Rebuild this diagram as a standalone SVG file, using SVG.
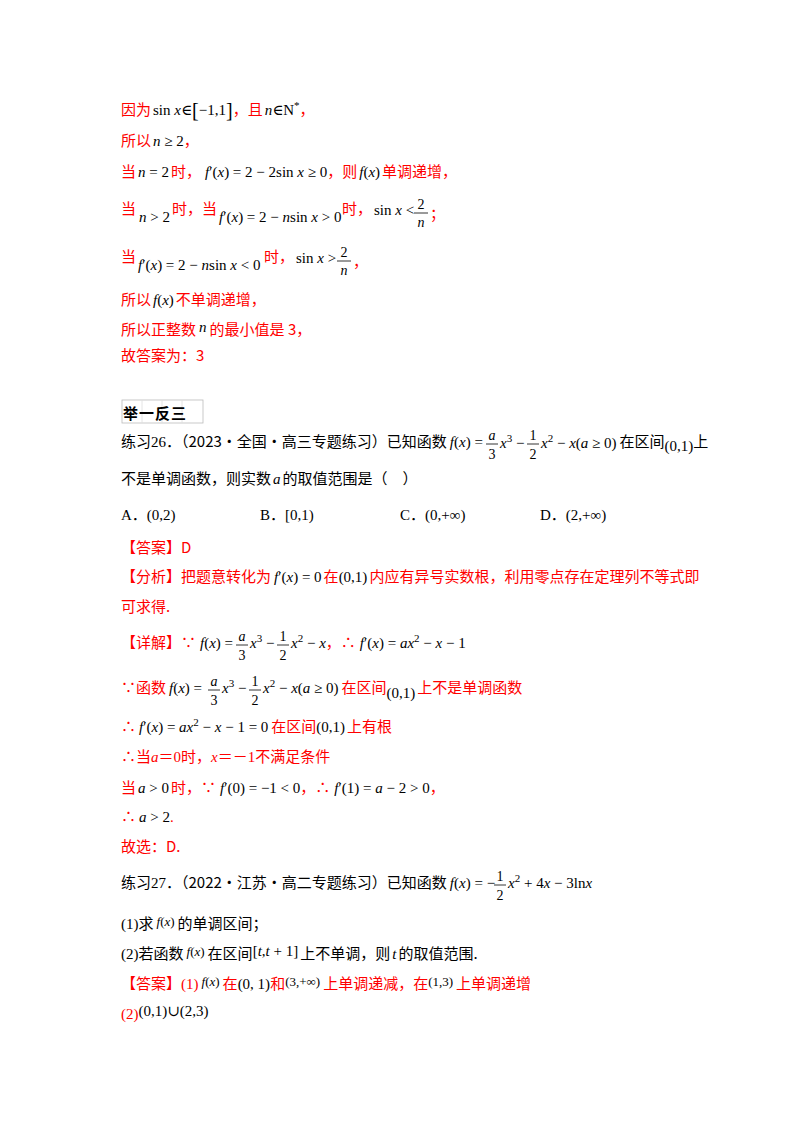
<svg xmlns="http://www.w3.org/2000/svg" width="800" height="1132" viewBox="0 0 800 1132">
<style>
text{font-family:"Liberation Serif","Times New Roman","DejaVu Serif","Noto Sans CJK SC",serif;font-size:15px;fill:#000}
.r{fill:#f00}
.i{font-style:italic}
.c{font-family:"Noto Sans CJK SC",sans-serif}
.s{font-size:11px}
.f{font-size:14px;text-anchor:middle}
.m{font-size:13px}
line{stroke:#000;stroke-width:0.8}
</style>
<rect width="800" height="1132" fill="#fff"/>
<g id="solution25">
<text x="121" y="115"><tspan class="r c">因为</tspan><tspan dx="2">sin </tspan><tspan class="i">x</tspan><tspan>∈</tspan><tspan font-size="20" dy="2">[</tspan><tspan dy="-2">−1,1</tspan><tspan font-size="20" dy="2">]</tspan><tspan class="r c" dy="-2">，且</tspan><tspan class="i" dx="2">n</tspan><tspan>∈N</tspan><tspan class="s" dy="-6">*</tspan><tspan class="r c" dy="6">，</tspan></text>
<text x="121" y="146"><tspan class="r c">所以</tspan><tspan class="i" dx="2">n</tspan><tspan> ≥ 2</tspan><tspan class="r c">，</tspan></text>
<text x="121" y="177"><tspan class="r c">当</tspan><tspan class="i" dx="2">n</tspan><tspan> = 2</tspan><tspan class="r c" dx="2">时，</tspan><tspan class="i" dx="4">f</tspan><tspan>′(</tspan><tspan class="i">x</tspan><tspan>) = 2 − 2sin </tspan><tspan class="i">x</tspan><tspan> ≥ 0</tspan><tspan class="r c">，则</tspan><tspan class="i" dx="2">f</tspan><tspan>(</tspan><tspan class="i">x</tspan><tspan>)</tspan><tspan class="r c" dx="2">单调递增，</tspan></text>
<text x="121" y="214" class="r c">当</text>
<text x="139" y="222"><tspan class="i">n</tspan><tspan> &gt; 2</tspan></text>
<text x="172" y="214" class="r c">时，当</text>
<text x="219" y="222"><tspan class="i">f</tspan><tspan>′(</tspan><tspan class="i">x</tspan><tspan>) = 2 − </tspan><tspan class="i">n</tspan><tspan>sin </tspan><tspan class="i">x</tspan><tspan> &gt; 0</tspan></text>
<text x="342" y="214" class="r c">时，</text>
<text x="374" y="215"><tspan>sin </tspan><tspan class="i">x</tspan><tspan> &lt;</tspan></text>
<text x="421" y="209" class="f">2</text><line x1="414" y1="213" x2="428" y2="213"/><text x="421" y="227" class="f i">n</text>
<text x="430" y="219" class="r c">；</text>
<text x="121" y="262" class="r c">当</text>
<text x="138" y="270"><tspan class="i">f</tspan><tspan>′(</tspan><tspan class="i">x</tspan><tspan>) = 2 − </tspan><tspan class="i">n</tspan><tspan>sin </tspan><tspan class="i">x</tspan><tspan> &lt; 0</tspan></text>
<text x="264" y="262" class="r c">时，</text>
<text x="296" y="263"><tspan>sin </tspan><tspan class="i">x</tspan><tspan> &gt;</tspan></text>
<text x="344" y="257" class="f">2</text><line x1="337" y1="261" x2="351" y2="261"/><text x="344" y="275" class="f i">n</text>
<text x="353" y="267" class="r c">，</text>
<text x="121" y="305"><tspan class="r c">所以</tspan><tspan class="i" dx="2">f</tspan><tspan>(</tspan><tspan class="i">x</tspan><tspan>)</tspan><tspan class="r c" dx="2">不单调递增，</tspan></text>
<text x="121" y="335"><tspan class="r c">所以正整数</tspan><tspan class="i" dy="-3" dx="3">n</tspan><tspan class="r c" dy="3" dx="3">的最小值是 3，</tspan></text>
<text x="121" y="361" class="r c">故答案为：3</text>
</g>
<g id="header">
<rect x="122" y="400" width="81" height="23" fill="#fff" stroke="#bbb" stroke-width="0.8"/>
<line x1="142" y1="400" x2="142" y2="423" style="stroke:#ddd"/><line x1="162" y1="400" x2="162" y2="423" style="stroke:#ddd"/><line x1="182" y1="400" x2="182" y2="423" style="stroke:#ddd"/>
<text x="123" y="419" class="c" font-size="19" font-weight="bold" letter-spacing="1">举一反三</text>
</g>
<g id="ex26">
<text x="121" y="447"><tspan class="c">练习</tspan><tspan>26．</tspan><tspan class="c">（2023·全国·高三专题练习）已知函数</tspan><tspan class="i" dx="3">f</tspan><tspan>(</tspan><tspan class="i">x</tspan><tspan>) =</tspan></text>
<text x="492" y="440" class="f i">a</text><line x1="486" y1="444" x2="498" y2="444"/><text x="492" y="459" class="f">3</text>
<text x="500" y="448"><tspan class="i">x</tspan><tspan class="s" dy="-6">3</tspan><tspan dy="6"> −</tspan></text>
<text x="533" y="440" class="f">1</text><line x1="527" y1="444" x2="539" y2="444"/><text x="533" y="459" class="f">2</text>
<text x="541" y="448"><tspan class="i">x</tspan><tspan class="s" dy="-6">2</tspan><tspan dy="6"> − </tspan><tspan class="i">x</tspan><tspan>(</tspan><tspan class="i">a</tspan><tspan> ≥ 0)</tspan><tspan class="c" dx="3" dy="-1">在区间</tspan><tspan dy="4">(0,1)</tspan><tspan class="c" dy="-4">上</tspan></text>
<text x="121" y="484"><tspan class="c">不是单调函数，则实数</tspan><tspan class="i" dx="2">a</tspan><tspan class="c" dx="2">的取值范围是（　）</tspan></text>
<text x="121" y="520">A．(0,2)</text>
<text x="260" y="520">B．[0,1)</text>
<text x="400" y="520">C．(0,+∞)</text>
<text x="540" y="520">D．(2,+∞)</text>
<text x="121" y="553" class="r c">【答案】D</text>
<text x="121" y="582"><tspan class="r c">【分析】把题意转化为</tspan><tspan class="i" dx="3">f</tspan><tspan>′(</tspan><tspan class="i">x</tspan><tspan>) = 0</tspan><tspan class="r c" dx="2">在</tspan><tspan>(0,1)</tspan><tspan class="r c" dx="2">内应有异号实数根，利用零点存在定理列不等式即</tspan></text>
<text x="121" y="612" class="r c">可求得.</text>
<text x="121" y="648"><tspan class="r c">【详解】∵</tspan><tspan class="i" dx="4">f</tspan><tspan>(</tspan><tspan class="i">x</tspan><tspan>) =</tspan></text>
<text x="242" y="641" class="f i">a</text><line x1="236" y1="645" x2="248" y2="645"/><text x="242" y="660" class="f">3</text>
<text x="250" y="648"><tspan class="i">x</tspan><tspan class="s" dy="-6">3</tspan><tspan dy="6"> −</tspan></text>
<text x="283" y="641" class="f">1</text><line x1="277" y1="645" x2="289" y2="645"/><text x="283" y="660" class="f">2</text>
<text x="291" y="648"><tspan class="i">x</tspan><tspan class="s" dy="-6">2</tspan><tspan dy="6"> − </tspan><tspan class="i">x</tspan><tspan class="r c">，∴</tspan><tspan class="i" dx="4">f</tspan><tspan>′(</tspan><tspan class="i">x</tspan><tspan>) = </tspan><tspan class="i">ax</tspan><tspan class="s" dy="-6">2</tspan><tspan dy="6"> − </tspan><tspan class="i">x</tspan><tspan> − 1</tspan></text>
<text x="121" y="693"><tspan class="r c">∵函数</tspan><tspan class="i" dx="3">f</tspan><tspan>(</tspan><tspan class="i">x</tspan><tspan>) =</tspan></text>
<text x="214" y="686" class="f i">a</text><line x1="208" y1="690" x2="220" y2="690"/><text x="214" y="705" class="f">3</text>
<text x="222" y="693"><tspan class="i">x</tspan><tspan class="s" dy="-6">3</tspan><tspan dy="6"> −</tspan></text>
<text x="255" y="686" class="f">1</text><line x1="249" y1="690" x2="261" y2="690"/><text x="255" y="705" class="f">2</text>
<text x="263" y="693"><tspan class="i">x</tspan><tspan class="s" dy="-6">2</tspan><tspan dy="6"> − </tspan><tspan class="i">x</tspan><tspan>(</tspan><tspan class="i">a</tspan><tspan> ≥ 0)</tspan><tspan class="r c" dx="3">在区间</tspan><tspan dy="5">(0,1)</tspan><tspan class="r c" dy="-5" dx="2">上不是单调函数</tspan></text>
<text x="121" y="732"><tspan class="r c">∴</tspan><tspan class="i" dx="3">f</tspan><tspan>′(</tspan><tspan class="i">x</tspan><tspan>) = </tspan><tspan class="i">ax</tspan><tspan class="s" dy="-6">2</tspan><tspan dy="6"> − </tspan><tspan class="i">x</tspan><tspan> − 1 = 0</tspan><tspan class="r c" dx="3">在区间</tspan><tspan>(0,1)</tspan><tspan class="r c" dx="2">上有根</tspan></text>
<text x="121" y="762" class="r"><tspan class="c">∴当</tspan><tspan class="i">a</tspan><tspan>＝0</tspan><tspan class="c">时，</tspan><tspan class="i">x</tspan><tspan>＝－1</tspan><tspan class="c">不满足条件</tspan></text>
<text x="121" y="793"><tspan class="r c">当</tspan><tspan class="i" dx="2">a</tspan><tspan> &gt; 0</tspan><tspan class="r c" dx="2">时，∵</tspan><tspan class="i" dx="4">f</tspan><tspan>′(0) = −1 &lt; 0</tspan><tspan class="r c">，∴</tspan><tspan class="i" dx="4">f</tspan><tspan>′(1) = </tspan><tspan class="i">a</tspan><tspan> − 2 &gt; 0</tspan><tspan class="r c">，</tspan></text>
<text x="121" y="822"><tspan class="r c">∴</tspan><tspan class="i" dx="3">a</tspan><tspan> &gt; 2</tspan><tspan class="r">.</tspan></text>
<text x="121" y="852" class="r c">故选：D.</text>
</g>
<g id="ex27">
<text x="121" y="888"><tspan class="c">练习</tspan><tspan>27．</tspan><tspan class="c">（2022·江苏·高二专题练习）已知函数</tspan><tspan class="i" dx="3">f</tspan><tspan>(</tspan><tspan class="i">x</tspan><tspan>) = −</tspan></text>
<text x="500" y="881" class="f">1</text><line x1="494" y1="885" x2="506" y2="885"/><text x="500" y="900" class="f">2</text>
<text x="508" y="888"><tspan class="i">x</tspan><tspan class="s" dy="-6">2</tspan><tspan dy="6"> + 4</tspan><tspan class="i">x</tspan><tspan> − 3ln</tspan><tspan class="i">x</tspan></text>
<text x="121" y="929"><tspan>(1)</tspan><tspan class="c">求</tspan><tspan class="i m" dy="-3" dx="3">f</tspan><tspan class="m">(</tspan><tspan class="i m">x</tspan><tspan class="m">)</tspan><tspan class="c" dy="3" dx="3">的单调区间；</tspan></text>
<text x="121" y="959"><tspan>(2)</tspan><tspan class="c">若函数</tspan><tspan class="i m" dy="-3" dx="3">f</tspan><tspan class="m">(</tspan><tspan class="i m">x</tspan><tspan class="m">)</tspan><tspan class="c" dy="3" dx="3">在区间</tspan><tspan dy="-3">[</tspan><tspan class="i">t</tspan><tspan>,</tspan><tspan class="i">t</tspan><tspan> + 1]</tspan><tspan class="c" dy="3" dx="2">上不单调，则</tspan><tspan class="i" dx="2">t</tspan><tspan class="c" dx="2">的取值范围.</tspan></text>
<text x="121" y="989"><tspan class="r c">【答案】</tspan><tspan class="r">(1)</tspan><tspan class="i m" dy="-3" dx="3">f</tspan><tspan class="m">(</tspan><tspan class="i m">x</tspan><tspan class="m">)</tspan><tspan class="r c" dy="3" dx="3">在</tspan><tspan>(0, 1)</tspan><tspan class="r c">和</tspan><tspan dy="-3" class="m">(3,+∞)</tspan><tspan class="r c" dy="3" dx="3">上单调递减，在</tspan><tspan dy="-3" class="m">(1,3)</tspan><tspan class="r c" dy="3" dx="3">上单调递增</tspan></text>
<text x="121" y="1019"><tspan class="r">(2)</tspan><tspan dy="-3">(0,1)∪(2,3)</tspan></text>
</g>
</svg>
